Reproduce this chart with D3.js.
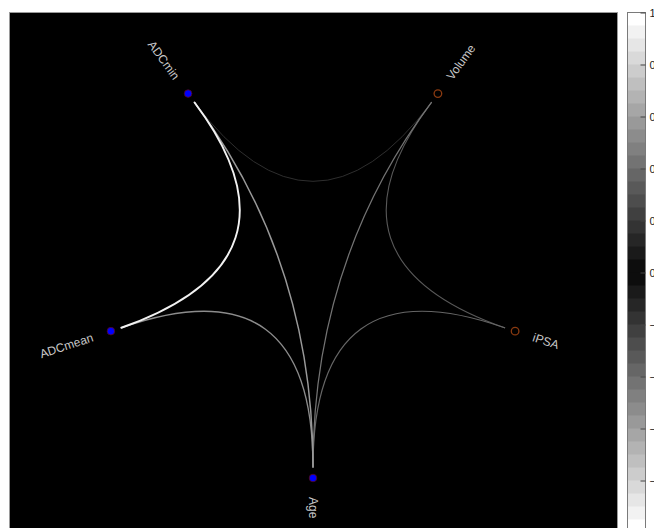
<!DOCTYPE html>
<html>
<head>
<meta charset="utf-8">
<script src="https://cdn.jsdelivr.net/npm/d3@7/dist/d3.min.js"></script>
<style>
  html, body { margin: 0; padding: 0; background: #fff; }
  svg { display: block; font-family: "Liberation Sans", Arial, sans-serif; }
</style>
</head>
<body>
<svg id="chart" width="654" height="528"></svg>
<script>
// Variables placed round the circle, starting at the bottom and going clockwise
const variables = ["Age", "ADCmean", "ADCmin", "Volume", "iPSA"];
const nodeGroup = ["blue", "blue", "blue", "open", "open"];

// Pairwise correlations drawn as curved links
const linkSource = ["ADCmin", "Volume", "iPSA", "Volume", "ADCmean", "ADCmin", "ADCmin"];
const linkTarget = ["Volume", "iPSA", "Age", "Age", "Age", "Age", "ADCmean"];
const linkR      = [-0.16, 0.32, 0.38, 0.42, -0.52, -0.58, 0.93];

// Colour bar ticks
const barTicks = [1, 0.8, 0.6, 0.4, 0.2, 0, -0.2, -0.4, -0.6, -0.8, -1];

const svg = d3.select("#chart");

// Plot panel
const panel = { x: 9.5, y: 12.5, w: 608, h: 530 };
svg.append("rect")
  .attr("x", panel.x).attr("y", panel.y)
  .attr("width", panel.w).attr("height", panel.h)
  .attr("fill", "#000").attr("stroke", "#9a9a9a").attr("stroke-width", 1);

const cx = 313, cy = 265.5, R = 212.5;
const angle = d3.scaleLinear().domain([0, variables.length]).range([90, 450]);
const pos = (name, rad) => {
  const a = angle(variables.indexOf(name)) * Math.PI / 180;
  return [cx + rad * Math.cos(a), cy + rad * Math.sin(a)];
};

// Grey level follows |r| in steps of 0.05
const step = 0.05;
const grey = d3.scaleLinear().domain([0, 1]).range(["#000000", "#ffffff"]).interpolate(d3.interpolateRgb);
const colourOf = r => grey(Math.min(1, Math.ceil(Math.abs(r) / step - 1e-9) * step));
const widthOf = d3.scaleLinear().domain([0, 1]).range([0.7, 2.0]);

const links = linkSource.map((s, i) => ({ s, t: linkTarget[i], r: linkR[i] }))
  .sort((a, b) => Math.abs(a.r) - Math.abs(b.r));

const linkRad = R - 11;
svg.append("g").selectAll("path").data(links).join("path")
  .attr("d", d => {
    const p0 = pos(d.s, linkRad), p1 = pos(d.t, linkRad);
    const p = d3.path();
    p.moveTo(p0[0], p0[1]);
    p.quadraticCurveTo(cx, cy - 5, p1[0], p1[1]);
    return p.toString();
  })
  .attr("fill", "none")
  .attr("stroke", d => colourOf(d.r))
  .attr("stroke-width", d => widthOf(Math.abs(d.r)))
  .attr("stroke-linecap", "round");

// Nodes
const nodes = variables.map((v, i) => ({ v, g: nodeGroup[i], p: pos(v, R) }));
svg.append("g").selectAll("circle").data(nodes).join("circle")
  .attr("cx", d => d.p[0]).attr("cy", d => d.p[1])
  .attr("r", 3.8)
  .attr("fill", d => d.g === "blue" ? "#0000ff" : "#000")
  .attr("stroke", d => d.g === "blue" ? "#5a0a10" : "#8a3a10")
  .attr("stroke-width", d => d.g === "blue" ? 0.8 : 1.3);

// Node labels, rotated along the radius
svg.append("g").selectAll("text").data(nodes).join("text")
  .each(function (d) {
    const deg = angle(variables.indexOf(d.v)) % 360;
    const [x, y] = pos(d.v, R + 19);
    const flip = deg > 90 && deg < 270;
    d3.select(this)
      .attr("transform", `translate(${x},${y}) rotate(${flip ? deg - 180 : deg})`)
      .attr("text-anchor", flip ? "end" : "start");
  })
  .attr("dy", "0.35em")
  .attr("font-size", 12)
  .attr("fill", "#c8c8c8")
  .text(d => d.v);

// Colour bar
const bar = { x: 627.5, y: 12.5, w: 18, h: 520 };
const barScale = d3.scaleLinear().domain([1, -1]).range([bar.y, bar.y + bar.h]);
const bands = d3.range(1, -1, -step).map(v => +v.toFixed(2));
svg.append("g").selectAll("rect").data(bands).join("rect")
  .attr("x", bar.x).attr("y", d => barScale(d))
  .attr("width", bar.w)
  .attr("height", d => barScale(d - step) - barScale(d) + 0.5)
  .attr("fill", d => grey(Math.max(Math.abs(d), Math.abs(d - step))));
svg.append("rect")
  .attr("x", bar.x).attr("y", bar.y).attr("width", bar.w).attr("height", bar.h)
  .attr("fill", "none").attr("stroke", "#7a7a7a").attr("stroke-width", 1);

const barAxis = svg.append("g")
  .attr("transform", `translate(${bar.x + bar.w - 5},0)`)
  .attr("color", "#333")
  .call(d3.axisRight(barScale).tickValues(barTicks).tickSize(5).tickPadding(4)
    .tickFormat(d3.format("~g")));
barAxis.select(".domain").remove();
barAxis.selectAll(".tick line").attr("stroke", "#444");
barAxis.selectAll(".tick text").attr("font-size", 11).attr("fill", "#222")
  .attr("font-family", "'Liberation Sans', Arial, sans-serif");
</script>
</body>
</html>
